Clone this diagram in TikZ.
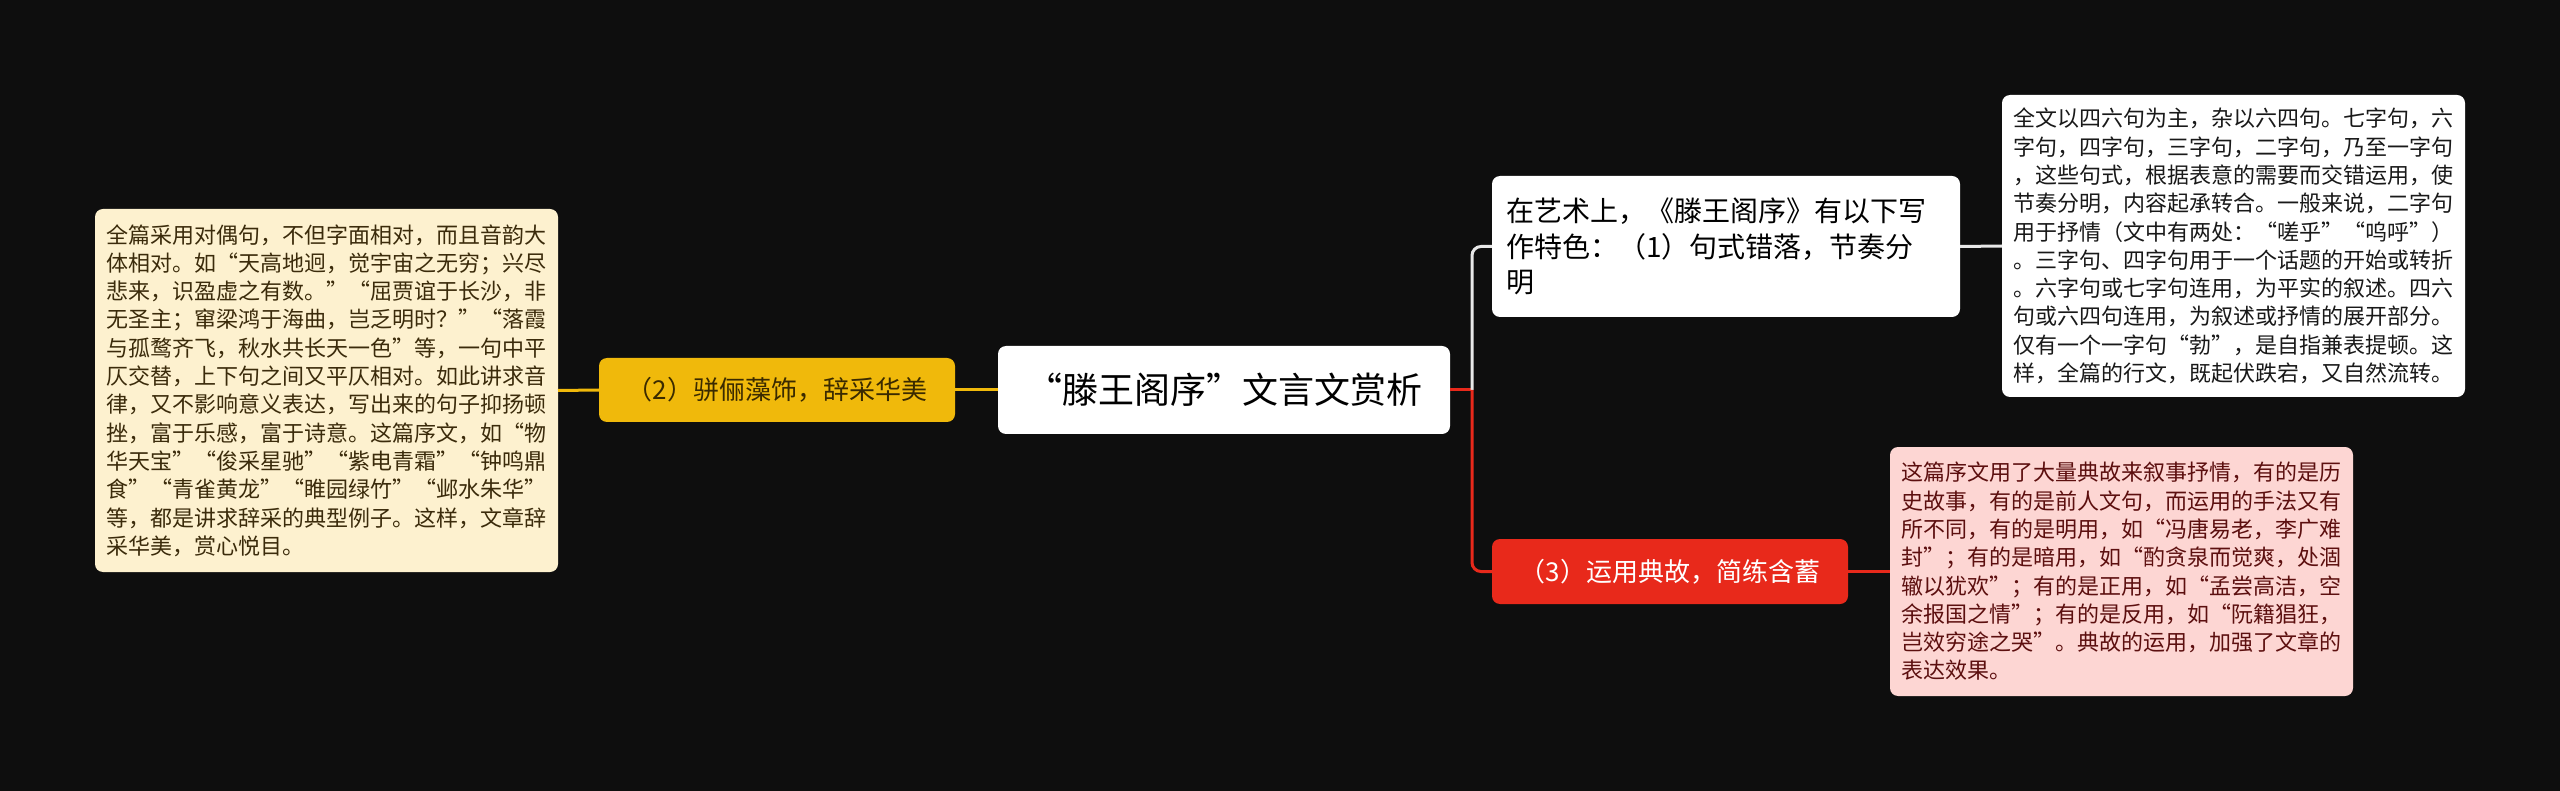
\documentclass[tikz,border=0pt]{standalone}
\usepackage{fontspec}
\newfontfamily\cjk{Noto Sans CJK SC}
\definecolor{bg}{HTML}{0E0E0E}
\definecolor{gold}{HTML}{F0B90B}
\definecolor{goldtext}{HTML}{3A2A00}
\definecolor{cream}{HTML}{FDF1CF}
\definecolor{creamtext}{HTML}{3B2B0B}
\definecolor{redn}{HTML}{E8291B}
\definecolor{pink}{HTML}{FDD6D3}
\definecolor{pinktext}{HTML}{5C0F0F}
\definecolor{linew}{HTML}{E8E8E8}
\tikzset{
  box/.style={rounded corners=8pt, inner ysep=0pt, outer sep=0pt},
  mainnode/.style={box, fill=white, text=black, minimum width=452pt, minimum height=88pt, font=\cjk\fontsize{36}{40}\selectfont},
  yellownode/.style={box, fill=gold, text=goldtext, minimum width=356pt, minimum height=64pt, font=\cjk\fontsize{26}{30}\selectfont},
  rednode/.style={box, fill=redn, text=white, minimum width=356pt, minimum height=65pt, font=\cjk\fontsize{26}{30}\selectfont},
  topnode/.style={box, fill=white, text=black, anchor=north west, text width=440pt, inner xsep=14pt, align=left, minimum height=141pt, font=\cjk\fontsize{28}{35.5}\selectfont},
  leafbox/.style={box, anchor=north west, text width=440pt, inner xsep=11.5pt, align=left, font=\cjk\fontsize{22}{28.3}\selectfont},
  goldline/.style={draw=gold, line width=3pt},
  redline/.style={draw=redn, line width=3pt},
  whiteline/.style={draw=linew, line width=3pt},
}
\begin{document}
\begin{tikzpicture}[x=1pt,y=-1pt]
\fill[bg] (0,0) rectangle (2560,791);
\useasboundingbox (0,0) rectangle (2560,791);

\node[mainnode] (center) at (1224,390) {“滕王阁序”文言文赏析};
\node[yellownode] (yellow) at (777,390) {（2）骈俪藻饰，辞采华美};
\node[topnode] (top) at (1492,176) {在艺术上，《滕王阁序》有以下写\\作特色：（1）句式错落，节奏分\\明};
\node[rednode] (red) at (1670,571.5) {（3）运用典故，简练含蓄};

\node[leafbox, fill=cream, text=creamtext, minimum height=363pt] (leftbox) at (95,209) {全篇采用对偶句，不但字面相对，而且音韵大\\体相对。如“天高地迥，觉宇宙之无穷；兴尽\\悲来，识盈虚之有数。”“屈贾谊于长沙，非\\无圣主；窜梁鸿于海曲，岂乏明时？”“落霞\\与孤鹜齐飞，秋水共长天一色”等，一句中平\\仄交替，上下句之间又平仄相对。如此讲求音\\律，又不影响意义表达，写出来的句子抑扬顿\\挫，富于乐感，富于诗意。这篇序文，如“物\\华天宝”“俊采星驰”“紫电青霜”“钟鸣鼎\\食”“青雀黄龙”“睢园绿竹”“邺水朱华”\\等，都是讲求辞采的典型例子。这样，文章辞\\采华美，赏心悦目。};

\node[leafbox, fill=white, text=black!90, minimum height=302pt] (rtbox) at (2002,95) {全文以四六句为主，杂以六四句。七字句，六\\字句，四字句，三字句，二字句，乃至一字句\\，这些句式，根据表意的需要而交错运用，使\\节奏分明，内容起承转合。一般来说，二字句\\用于抒情（文中有两处：“嗟乎”“呜呼”）\\。三字句、四字句用于一个话题的开始或转折\\。六字句或七字句连用，为平实的叙述。四六\\句或六四句连用，为叙述或抒情的展开部分。\\仅有一个一字句“勃”，是自指兼表提顿。这\\样，全篇的行文，既起伏跌宕，又自然流转。};

\node[leafbox, fill=pink, text=pinktext, minimum height=249pt] (pinkbox) at (1890,447) {这篇序文用了大量典故来叙事抒情，有的是历\\史故事，有的是前人文句，而运用的手法又有\\所不同，有的是明用，如“冯唐易老，李广难\\封”；有的是暗用，如“酌贪泉而觉爽，处涸\\辙以犹欢”；有的是正用，如“孟尝高洁，空\\余报国之情”；有的是反用，如“阮籍猖狂，\\岂效穷途之哭”。典故的运用，加强了文章的\\表达效果。};

\coordinate (j) at (1472,390);
\draw[goldline] (center.west) -- (yellow.east);
\draw[goldline] (yellow.west) -- (leftbox.east);
\draw[redline] (center.east) -- (j);
\draw[whiteline, rounded corners=9pt] (j) |- (top.west);
\draw[redline, rounded corners=9pt] (j) |- (red.west);
\draw[whiteline] (top.east) -- (rtbox.west);
\draw[redline] (red.east) -- (pinkbox.west);
\end{tikzpicture}
\end{document}
